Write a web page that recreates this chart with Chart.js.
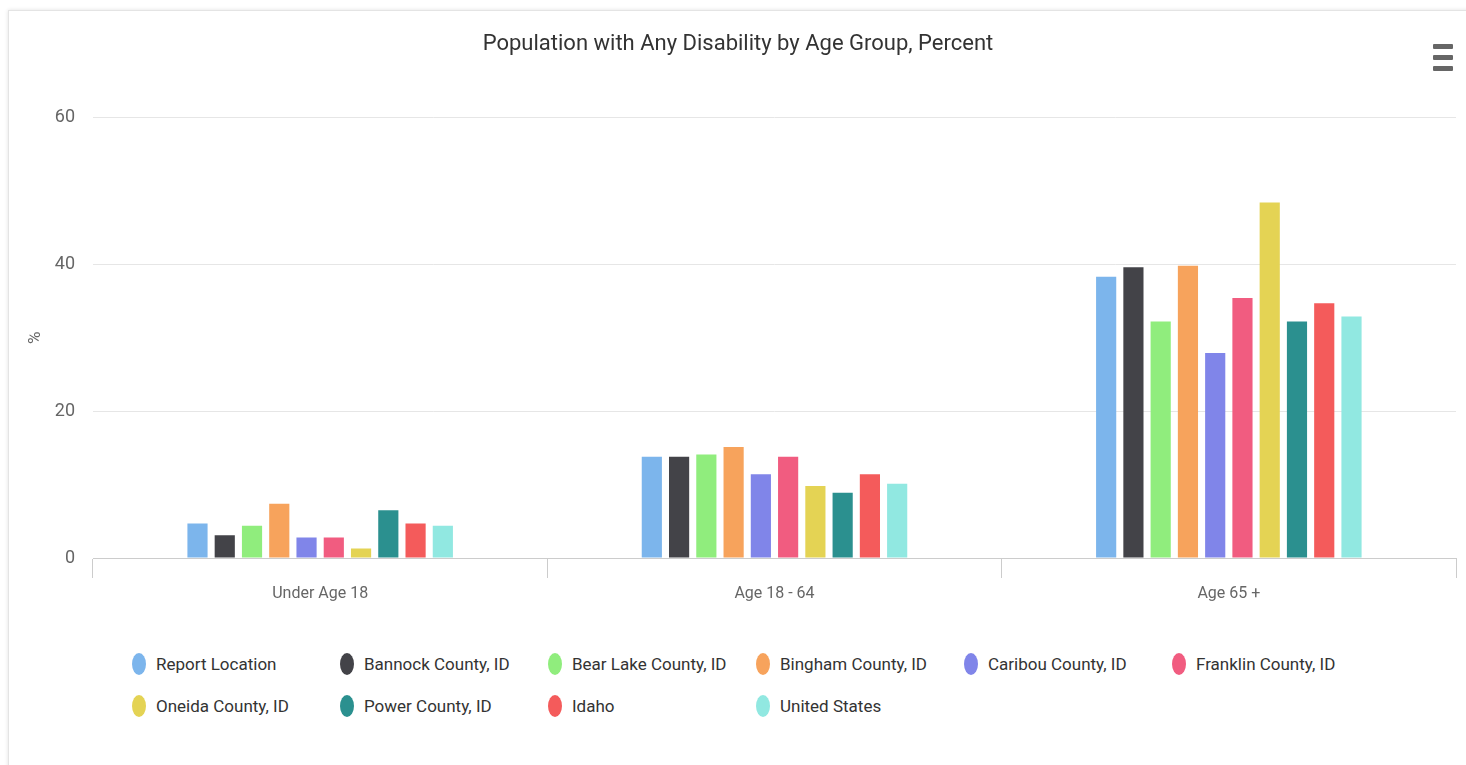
<!DOCTYPE html>
<html>
<head>
<meta charset="utf-8">
<script src="https://cdn.jsdelivr.net/npm/chart.js@4.4.1/dist/chart.umd.min.js"></script>
<style>
  html, body { margin: 0; padding: 0; background: #fff; }
  body { width: 1466px; height: 765px; position: relative; overflow: hidden;
         font-family: Roboto, "Open Sans", sans-serif; }
  .card { position: absolute; left: 8px; top: 10px; width: 1470px; height: 760px;
          border: 1px solid #e4e4e4; box-shadow: 0 0 4px rgba(0,0,0,0.12); }
  #wrap { position: absolute; left: 0; top: 0; width: 1466px; height: 620px; }
  .menu { position: absolute; left: 1433px; top: 44px; width: 20px; }
  .menu span { display: block; height: 5px; background: #666; margin-bottom: 6px; border-radius: 1px; }
  #legend { position: absolute; left: 0; top: 644px; width: 1466px; }
  .item { position: absolute; height: 40px; line-height: 40px; font-size: 17px; color: #333; white-space: nowrap; }
  .item i { position: absolute; left: 0; top: 9px; width: 14px; height: 22px; border-radius: 50%; }
  .item b { font-weight: normal; position: absolute; left: 24px; top: 0; }
</style>
</head>
<body>
<div class="card"></div>
<div id="wrap"><canvas id="grafico"></canvas></div>
<div class="menu"><span></span><span></span><span></span></div>
<div id="legend"></div>
<script>
// Categorias y series
const categorias = ["Under Age 18", "Age 18 - 64", "Age 65 +"];
const series = ["Report Location", "Bannock County, ID", "Bear Lake County, ID", "Bingham County, ID",
  "Caribou County, ID", "Franklin County, ID", "Oneida County, ID", "Power County, ID", "Idaho", "United States"];
const colores = ["#7cb5ec", "#434348", "#90ed7d", "#f7a35c", "#8085e9", "#f15c80", "#e4d354", "#2b908f", "#f45b5b", "#91e8e1"];

// valores por serie (Under 18, 18-64, 65+)
const reportLocation = [4.7, 13.8, 38.3];
const bannock = [3.1, 13.8, 39.6];
const bearLake = [4.4, 14.1, 32.2];
const bingham = [7.4, 15.1, 39.8];
const caribou = [2.8, 11.4, 27.9];
const franklin = [2.8, 13.8, 35.4];
const oneida = [1.3, 9.8, 48.4];
const power = [6.5, 8.9, 32.2];
const idaho = [4.7, 11.4, 34.7];
const unitedStates = [4.4, 10.1, 32.9];
const valores = [reportLocation, bannock, bearLake, bingham, caribou, franklin, oneida, power, idaho, unitedStates];

const yTicks = [0, 20, 40, 60];

Chart.defaults.font.family = 'Roboto, "Open Sans", sans-serif';

const datasets = series.map((nombre, i) => ({
  label: nombre,
  data: valores[i],
  backgroundColor: colores[i],
  borderWidth: 0,
  categoryPercentage: 0.6,
  barPercentage: 0.74
}));

const chart = new Chart("grafico", {
  type: "bar",
  data: { labels: categorias, datasets: datasets },
  options: {
    responsive: true,
    maintainAspectRatio: false,
    animation: false,
    layout: { padding: { left: 20, right: 10, top: 0, bottom: 0 } },
    plugins: {
      legend: { display: false },
      tooltip: { enabled: false },
      title: {
        display: true,
        text: "Population with Any Disability by Age Group, Percent",
        color: "#333",
        font: { size: 22, weight: "normal" },
        padding: { top: 31, bottom: 60 }
      }
    },
    scales: {
      x: {
        grid: { offset: true, drawOnChartArea: false, tickLength: 20, color: "#ccc", tickColor: "#ccc" },
        border: { color: "#ccc" },
        ticks: { color: "#666", font: { size: 16 }, padding: 6 },
        afterFit: (s) => { s.height = 62; }
      },
      y: {
        min: 0, max: 60,
        afterBuildTicks: (s) => { s.ticks = yTicks.map(v => ({ value: v })); },
        grid: { color: "#e6e6e6", drawTicks: false },
        border: { display: false },
        ticks: { color: "#666", font: { size: 18 }, padding: 18 },
        title: { display: true, text: "%", color: "#666", font: { size: 17 }, padding: { top: 6, bottom: 0 } },
        afterFit: (s) => { s.width = 73; }
      }
    }
  }
});

// Leyenda en columnas fijas
const legend = document.getElementById("legend");
series.forEach((nombre, i) => {
  const d = document.createElement("div");
  d.className = "item";
  d.style.left = (132 + (i % 6) * 208) + "px";
  d.style.top = (Math.floor(i / 6) * 42) + "px";
  d.innerHTML = `<i style="background:${colores[i]}"></i><b>${nombre}</b>`;
  legend.appendChild(d);
});
</script>
</body>
</html>
